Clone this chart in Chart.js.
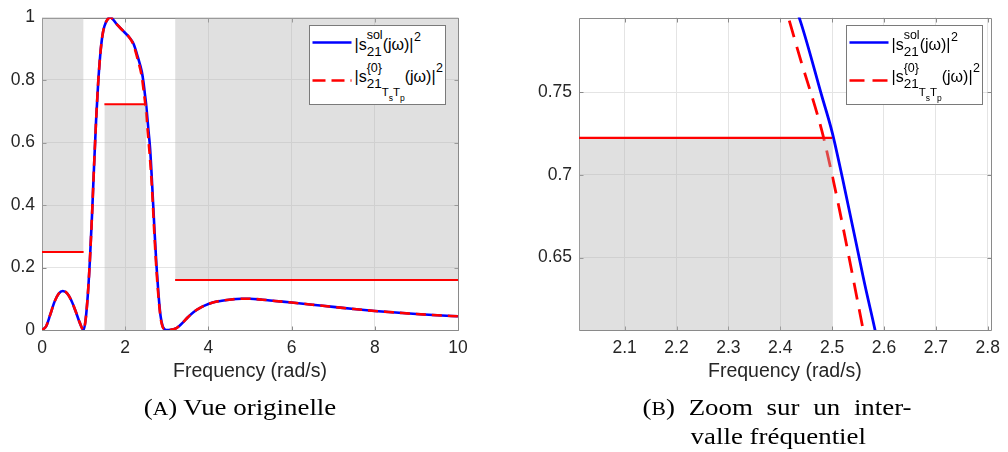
<!DOCTYPE html>
<html><head><meta charset="utf-8">
<script src="https://cdn.jsdelivr.net/npm/chart.js@4.4.1/dist/chart.umd.min.js"></script>
<style>
html,body{margin:0;padding:0;background:#fff;}
#wrap{position:relative;width:1008px;height:452px;overflow:hidden;background:#fff;}
canvas{position:absolute;top:0;}
.t{position:absolute;white-space:nowrap;color:#000;}
.leg{position:absolute;border:1px solid #7a7a7a;background:#fff;box-sizing:border-box;}
</style></head><body>
<div id="wrap">
<canvas id="cA" width="500" height="390" style="left:0px"></canvas>
<canvas id="cB" width="488" height="390" style="left:520px"></canvas>
</div>
<script>
// ---- data ----
const omega  = [0,0.1,0.2,0.3,0.4,0.5,0.6,0.7,0.8,0.9, 1.0, 1.05,1.1,1.15,1.2,1.25,1.3,1.35,1.4,1.45,1.5, 1.57,1.64, 1.8,1.95,2.1,2.2,2.3,2.4, 2.44,2.48,2.5,2.52,2.56,2.6, 2.65,2.7,2.75,2.8,2.85,2.9,2.95,3.0, 3.1,3.2,3.3,3.4,3.5,3.64,3.8,4.0, 4.2,4.5,4.8,5.0,5.3,5.6,6.0, 6.5,7.0,7.5,8.0,8.5,9.0,9.5,10];
const s21Sol = [0,0.012,0.05,0.09,0.116,0.125,0.118,0.096,0.063,0.026, 0, 0.035,0.11,0.22,0.36,0.52,0.67,0.79,0.88,0.94,0.972, 0.993,1.0, 0.978,0.957,0.936,0.916,0.875,0.826, 0.792,0.748,0.726,0.698,0.638,0.578, 0.46,0.33,0.21,0.115,0.045,0.012,0.002,0, 0.001,0.004,0.013,0.026,0.04,0.057,0.071,0.083, 0.091,0.097,0.1,0.1,0.097,0.093,0.088, 0.081,0.074,0.067,0.061,0.056,0.051,0.047,0.044];
const s21TsTp = [0,0.012,0.05,0.09,0.116,0.125,0.118,0.096,0.063,0.026, 0, 0.035,0.11,0.22,0.36,0.52,0.67,0.79,0.88,0.94,0.972, 0.993,1.0, 0.978,0.957,0.936,0.912,0.866,0.81, 0.769,0.727,0.7,0.67,0.606,0.542, 0.44,0.31,0.195,0.105,0.04,0.01,0.002,0, 0.001,0.004,0.013,0.026,0.04,0.057,0.071,0.083, 0.091,0.097,0.1,0.1,0.097,0.093,0.088, 0.081,0.074,0.067,0.061,0.056,0.051,0.047,0.044];
// template (mask) bands
const specStart = [0, 1.5, 3.2];
const specEnd   = [1, 2.5, 10];
const specLevel = [0.25, 0.7225, 0.16];
const specKind  = ['stop', 'pass', 'stop'];
// ticks
const xTicksA = [0,2,4,6,8,10];
const yTicksA = [0,0.2,0.4,0.6,0.8,1];
const xTicksB = [2.1,2.2,2.3,2.4,2.5,2.6,2.7,2.8];
const yTicksB = [0.65,0.7,0.75];
const xTitle = 'Frequency (rad/s)';
const captionA = ['(', 'A', ') Vue originelle'];
const captionB1 = ['(B)', 'Zoom', 'sur', 'un', 'inter-'];
const captionB2 = 'valle fréquentiel';

// ---- drawing ----
const SANS = '"Liberation Sans", Arial, Helvetica, sans-serif';
const SERIF = '"Liberation Serif", "Times New Roman", serif';
const AX = '#262626';
const pts = (xs, ys) => xs.map((x, i) => ({x: x, y: ys[i]}));
const fmt = v => String(Math.round(v * 1000) / 1000);

const boxPlugin = {
  id: 'matlabBox',
  beforeDatasetsDraw(chart) {
    const {ctx, chartArea: a, scales: {x, y}} = chart;
    const L = Math.round(a.left) + 0.5, R = Math.round(a.right) + 0.5;
    const T = Math.round(a.top) + 0.5, B = Math.round(a.bottom) + 0.5;
    ctx.save();
    ctx.strokeStyle = '#8a8a8a';
    ctx.lineWidth = 1;
    ctx.beginPath();
    ctx.rect(L, T, R - L, B - T);
    x.ticks.forEach(t => {
      const p = Math.round(x.getPixelForValue(t.value)) + 0.5;
      ctx.moveTo(p, B); ctx.lineTo(p, B - 4);
      ctx.moveTo(p, T); ctx.lineTo(p, T + 4);
    });
    y.ticks.forEach(t => {
      const p = Math.round(y.getPixelForValue(t.value)) + 0.5;
      ctx.moveTo(L, p); ctx.lineTo(L + 4, p);
      ctx.moveTo(R, p); ctx.lineTo(R - 4, p);
    });
    ctx.stroke();
    ctx.restore();
  }
};

function makeChart(id, c) {
  const ds = [
    {data: pts(omega, s21Sol), borderColor: '#0000ff', borderWidth: c.lw, pointRadius: 0,
     cubicInterpolationMode: 'monotone', fill: false, order: 2, clip: 0},
    {data: pts(omega, s21TsTp), borderColor: '#ff0000', borderWidth: c.lw, borderDash: c.dash,
     pointRadius: 0, cubicInterpolationMode: 'monotone', fill: false, order: 1, clip: 0}
  ];
  specStart.forEach((s, i) => ds.push({
    data: [{x: s, y: specLevel[i]}, {x: specEnd[i], y: specLevel[i]}],
    borderColor: '#ff0000', borderWidth: c.slw, backgroundColor: 'rgba(178,178,178,0.4)',
    fill: specKind[i] === 'stop' ? 'end' : 'start', pointRadius: 0, order: 0, clip: 0
  }));
  const grid = {color: '#e4e4e4', drawTicks: false, lineWidth: 1};
  return new Chart(document.getElementById(id), {
    type: 'line',
    data: {datasets: ds},
    plugins: [boxPlugin],
    options: {
      responsive: false, animation: false, devicePixelRatio: 1, events: [],
      layout: {padding: {top: 12, right: c.pr, bottom: 0, left: 0}},
      plugins: {legend: {display: false}, tooltip: {enabled: false}},
      scales: {
        x: {type: 'linear', min: c.xmin, max: c.xmax,
            afterBuildTicks: s => { s.ticks = c.xt.map(v => ({value: v})); },
            afterFit: s => { s.height = 60; },
            grid: grid, border: {display: false},
            ticks: {font: {family: SANS, size: 17.5}, color: AX, padding: 8, maxRotation: 0, autoSkip: false, callback: fmt},
            title: {display: true, text: xTitle, font: {family: SANS, size: 19.5}, color: AX, padding: {top: 0, bottom: 7}}},
        y: {type: 'linear', min: c.ymin, max: c.ymax,
            afterBuildTicks: s => { s.ticks = c.yt.map(v => ({value: v})); },
            afterFit: s => { s.width = c.yw; },
            grid: grid, border: {display: false},
            ticks: {font: {family: SANS, size: 17.5}, color: AX, padding: 7, autoSkip: false, callback: fmt}}
      }
    }
  });
}

makeChart('cA', {xmin: 0, xmax: 10, ymin: 0, ymax: 1, xt: xTicksA, yt: yTicksA, yw: 42, pr: 42, lw: 2.6, slw: 2, dash: [10, 6]});
makeChart('cB', {xmin: 2.012, xmax: 2.806, ymin: 0.6061, ymax: 0.7954, xt: xTicksB, yt: yTicksB, yw: 59, pr: 14, lw: 2.8, slw: 2.4, dash: [17, 10]});

// ---- legends (HTML text) ----
const wrap = document.getElementById('wrap');
function put(txt, x, base, size, fam, asc) {
  const s = document.createElement('span');
  s.className = 't';
  s.textContent = txt;
  s.style.fontSize = size + 'px';
  s.style.fontFamily = fam || SANS;
  s.style.lineHeight = size + 'px';
  s.style.left = x + 'px';
  s.style.top = (base - (asc || 0.8465) * size) + 'px';
  s.style.color = '#000';
  wrap.appendChild(s);
  return s.getBoundingClientRect().width;
}
function legend(L, T, dash) {
  const b = document.createElement('div');
  b.className = 'leg';
  b.style.left = L + 'px'; b.style.top = T + 'px';
  b.style.width = '137px'; b.style.height = '80px';
  wrap.appendChild(b);
  const NS = 'http://www.w3.org/2000/svg';
  const svg = document.createElementNS(NS, 'svg');
  svg.setAttribute('width', '1008'); svg.setAttribute('height', '452');
  svg.style.position = 'absolute'; svg.style.left = '0'; svg.style.top = '0';
  const ln = (y, col, da) => {
    const l = document.createElementNS(NS, 'line');
    l.setAttribute('x1', L + 3.5); l.setAttribute('x2', L + 42.5);
    l.setAttribute('y1', y); l.setAttribute('y2', y);
    l.setAttribute('stroke', col); l.setAttribute('stroke-width', '2.6');
    if (da) l.setAttribute('stroke-dasharray', da);
    svg.appendChild(l);
  };
  ln(T + 17.5, '#0000ff');
  ln(T + 55.5, '#ff0000', dash);
  wrap.appendChild(svg);
  // row 1
  let x = L + 45.5;
  x += put('|s', x, T + 26, 16);
  const w1 = put('sol', x, T + 15, 12.5);
  const w2 = put('21', x, T + 31.5, 13.5);
  x += Math.max(w1, w2);
  x += put('(jω)|', x, T + 26, 16);
  put('2', x + 0.5, T + 16.5, 12.5);
  // row 2
  x = L + 45.5;
  x += put('|s', x, T + 58, 16);
  const wa = put('{0}', x, T + 47.5, 12.5);
  let xs = x;
  xs += put('21', xs, T + 63.5, 13.5);
  xs += put('T', xs, T + 71.5, 11.5);
  xs += put('s', xs, T + 76.5, 8.5);
  xs += put('T', xs, T + 71.5, 11.5);
  xs += put('p', xs, T + 76.5, 8.5);
  x = Math.max(x + wa, xs);
  x += put('(jω)|', x, T + 58, 16);
  put('2', x + 0.5, T + 47.5, 12.5);
}
legend(309, 25, '13 6');
legend(846, 25, '15 8');

// ---- captions ----
const CAPS = 24, SX = 1.12, SASC = 0.8375;
function capLine(html, cx, base) {
  const d = document.createElement('div');
  d.className = 't';
  d.style.fontFamily = SERIF; d.style.fontSize = CAPS + 'px'; d.style.lineHeight = CAPS + 'px';
  d.innerHTML = html;
  wrap.appendChild(d);
  const w = d.getBoundingClientRect().width;
  d.style.left = (cx - w / 2) + 'px';
  d.style.top = (base - SASC * CAPS) + 'px';
  d.style.transform = 'scaleX(' + SX + ')';
  d.style.transformOrigin = 'center';
}
capLine(captionA[0] + '<span style="font-size:0.8em">' + captionA[1] + '</span>' + captionA[2], 240, 415);
// justified first line of caption B
(function () {
  const d = document.createElement('div');
  d.className = 't';
  d.style.fontFamily = SERIF; d.style.fontSize = CAPS + 'px'; d.style.lineHeight = CAPS + 'px';
  d.style.display = 'flex'; d.style.justifyContent = 'space-between';
  const wU = 269 / SX;
  d.style.width = wU + 'px';
  d.style.left = (777.5 - wU / 2) + 'px';
  d.style.top = (415 - SASC * CAPS) + 'px';
  d.style.transform = 'scaleX(' + SX + ')';
  d.style.transformOrigin = 'center';
  captionB1.forEach((w, i) => {
    const s = document.createElement('span');
    if (i === 0) s.innerHTML = '(<span style="font-size:0.8em">B</span>)';
    else s.textContent = w;
    d.appendChild(s);
  });
  wrap.appendChild(d);
})();
capLine(captionB2, 778, 444);
</script>
</body></html>
